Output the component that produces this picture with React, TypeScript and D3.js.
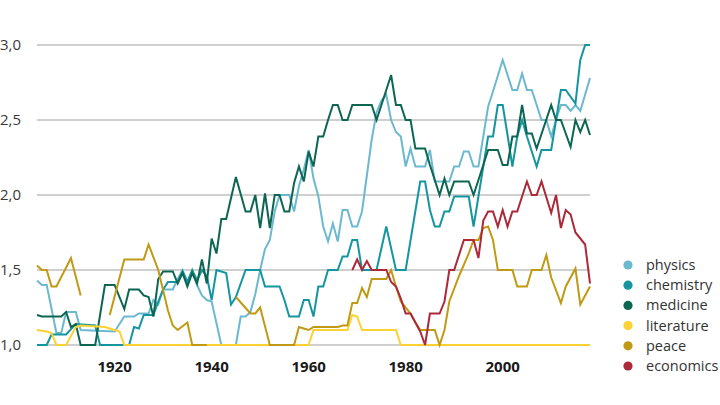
import React, { useRef, useEffect } from 'react';
import * as d3 from 'd3';

type Pt = [number, number | null];

// values (vertices of each line)
const physics: Pt[] = [
  [1904, 1.43], [1905, 1.4], [1906, 1.4], [1908, 1.08], [1909, 1.08], [1910, 1.22], [1912, 1.22], [1913, 1.1],
  [1920, 1.09], [1922, 1.19], [1924, 1.19], [1925, 1.21], [1927, 1.21], [1928, 1.3], [1929, 1.27], [1930, 1.37],
  [1932, 1.37], [1933, 1.44], [1934, 1.5], [1935, 1.42], [1936, 1.49], [1937, 1.4], [1938, 1.33], [1939, 1.3],
  [1940, 1.29], [1942, 1.0], [1945, 1.0], [1946, 1.19], [1947, 1.19], [1948, 1.22], [1949, 1.34], [1950, 1.5],
  [1951, 1.64], [1952, 1.7], [1953, 1.89], [1954, 2.0], [1956, 2.0], [1957, 1.89], [1958, 2.06], [1959, 2.17],
  [1960, 2.3], [1961, 2.11], [1962, 1.99], [1963, 1.79], [1964, 1.69], [1965, 1.81], [1966, 1.69], [1967, 1.9],
  [1968, 1.9], [1969, 1.79], [1970, 1.79], [1971, 1.89], [1972, 2.13], [1973, 2.37], [1974, 2.55], [1975, 2.63],
  [1976, 2.67], [1977, 2.5], [1978, 2.42], [1979, 2.39], [1980, 2.19], [1981, 2.31], [1982, 2.19], [1984, 2.19],
  [1985, 2.3], [1986, 2.09], [1989, 2.09], [1990, 2.19], [1991, 2.19], [1992, 2.29], [1993, 2.29], [1994, 2.19],
  [1995, 2.19], [1997, 2.59], [1998, 2.69], [2000, 2.9], [2002, 2.7], [2003, 2.7], [2004, 2.81], [2005, 2.7],
  [2006, 2.7], [2008, 2.5], [2009, 2.5], [2010, 2.39], [2011, 2.5], [2012, 2.6], [2013, 2.6], [2014, 2.56],
  [2015, 2.6], [2016, 2.56], [2017, 2.67], [2018, 2.78],
];

const chemistry: Pt[] = [
  [1904, 1.0], [1906, 1.0], [1907, 1.07], [1910, 1.07], [1912, 1.14], [1916, 1.13], [1917, 1.0], [1923, 1.0],
  [1924, 1.12], [1925, 1.11], [1926, 1.2], [1928, 1.2], [1929, 1.29], [1930, 1.37], [1931, 1.42], [1933, 1.42],
  [1934, 1.49], [1935, 1.42], [1936, 1.5], [1937, 1.43], [1938, 1.5], [1939, 1.46], [1940, 1.3], [1941, 1.5],
  [1943, 1.48], [1944, 1.27], [1945, 1.32], [1947, 1.5], [1950, 1.5], [1951, 1.39], [1954, 1.39], [1955, 1.3],
  [1956, 1.19], [1958, 1.19], [1959, 1.3], [1960, 1.3], [1961, 1.19], [1962, 1.39], [1963, 1.39], [1964, 1.5],
  [1966, 1.5], [1967, 1.59], [1968, 1.59], [1969, 1.7], [1970, 1.7], [1971, 1.5], [1974, 1.5], [1976, 1.79],
  [1978, 1.5], [1980, 1.5], [1983, 2.09], [1984, 2.09], [1985, 1.9], [1986, 1.79], [1987, 1.79], [1988, 1.89],
  [1989, 1.89], [1990, 1.99], [1993, 1.99], [1994, 1.79], [1995, 1.99], [1996, 2.19], [1997, 2.39], [1998, 2.39],
  [1999, 2.6], [2000, 2.6], [2001, 2.4], [2002, 2.19], [2003, 2.39], [2004, 2.5], [2005, 2.39], [2006, 2.29],
  [2007, 2.19], [2008, 2.3], [2010, 2.3], [2012, 2.7], [2013, 2.7], [2015, 2.61], [2016, 2.9], [2017, 3.0],
  [2018, 3.0],
];

const medicine: Pt[] = [
  [1904, 1.2], [1905, 1.19], [1909, 1.19], [1910, 1.22], [1911, 1.12], [1912, 1.14], [1913, 1.0], [1916, 1.0],
  [1918, 1.4], [1920, 1.4], [1922, 1.24], [1923, 1.37], [1925, 1.37], [1926, 1.33], [1927, 1.32], [1928, 1.19],
  [1929, 1.44], [1930, 1.49], [1932, 1.49], [1933, 1.41], [1934, 1.48], [1935, 1.39], [1936, 1.48], [1937, 1.41],
  [1938, 1.57], [1939, 1.41], [1940, 1.71], [1941, 1.61], [1942, 1.84], [1943, 1.84], [1945, 2.12], [1947, 1.89],
  [1948, 1.89], [1949, 2.0], [1950, 1.78], [1951, 2.01], [1952, 1.78], [1953, 2.0], [1954, 2.0], [1955, 1.89],
  [1956, 1.89], [1957, 2.08], [1958, 2.19], [1959, 2.09], [1960, 2.29], [1961, 2.19], [1962, 2.39], [1963, 2.39],
  [1964, 2.5], [1965, 2.6], [1966, 2.6], [1967, 2.5], [1968, 2.5], [1969, 2.6], [1973, 2.6], [1974, 2.5],
  [1977, 2.8], [1978, 2.6], [1979, 2.6], [1980, 2.5], [1981, 2.5], [1982, 2.31], [1984, 2.31], [1985, 2.2],
  [1987, 2.0], [1988, 2.11], [1989, 2.0], [1990, 2.09], [1993, 2.09], [1994, 2.0], [1996, 2.2], [1997, 2.3],
  [1999, 2.3], [2000, 2.2], [2001, 2.2], [2002, 2.39], [2003, 2.39], [2004, 2.6], [2005, 2.41], [2006, 2.41],
  [2007, 2.31], [2010, 2.6], [2011, 2.5], [2012, 2.5], [2014, 2.32], [2015, 2.5], [2016, 2.42], [2017, 2.5],
  [2018, 2.4],
];

const literature: Pt[] = [
  [1904, 1.1], [1906, 1.09], [1907, 1.08], [1908, 1.0], [1910, 1.0], [1912, 1.12], [1913, 1.13], [1918, 1.12],
  [1920, 1.1], [1921, 1.09], [1922, 1.0], [1960, 1.0], [1961, 1.1], [1968, 1.1], [1969, 1.2], [1970, 1.19],
  [1971, 1.1], [1978, 1.1], [1979, 1.0], [2018, 1.0],
];

const peace: Pt[] = [
  [1904, 1.53], [1905, 1.5], [1906, 1.5], [1907, 1.39], [1908, 1.39], [1911, 1.58], [1913, 1.33], [1914, null],
  [1918, null], [1919, 1.2], [1922, 1.57], [1926, 1.57], [1927, 1.67], [1929, 1.5], [1931, 1.23], [1932, 1.13],
  [1933, 1.1], [1935, 1.15], [1936, 1.0], [1939, 1.0], [1940, null], [1944, null], [1945, 1.32], [1948, 1.21],
  [1949, 1.21], [1950, 1.25], [1952, 1.0], [1957, 1.0], [1958, 1.12], [1959, 1.11], [1960, 1.1], [1961, 1.12],
  [1966, 1.12], [1967, 1.13], [1968, 1.13], [1969, 1.28], [1970, 1.28], [1971, 1.38], [1972, 1.32], [1973, 1.44],
  [1976, 1.44], [1977, 1.5], [1978, 1.39], [1979, 1.29], [1981, 1.21], [1982, 1.15], [1983, 1.1], [1986, 1.1],
  [1987, 1.0], [1988, 1.1], [1989, 1.29], [1991, 1.46], [1993, 1.61], [1994, 1.7], [1995, 1.7], [1996, 1.78],
  [1997, 1.79], [1998, 1.7], [1999, 1.5], [2002, 1.5], [2003, 1.39], [2005, 1.39], [2006, 1.5], [2008, 1.5],
  [2009, 1.6], [2010, 1.45], [2012, 1.28], [2013, 1.39], [2015, 1.51], [2016, 1.27], [2018, 1.39],
];

const economics: Pt[] = [
  [1969, 1.5], [1970, 1.57], [1971, 1.5], [1972, 1.56], [1973, 1.5], [1976, 1.5], [1977, 1.42], [1978, 1.39],
  [1979, 1.31], [1980, 1.21], [1981, 1.21], [1982, 1.15], [1983, 1.09], [1984, 1.0], [1985, 1.21], [1987, 1.21],
  [1988, 1.29], [1989, 1.5], [1990, 1.5], [1992, 1.7], [1994, 1.7], [1995, 1.58], [1996, 1.83], [1997, 1.89],
  [1998, 1.89], [1999, 1.79], [2000, 1.9], [2001, 1.79], [2002, 1.89], [2003, 1.89], [2005, 2.09], [2006, 2.0],
  [2007, 2.0], [2008, 2.09], [2010, 1.88], [2011, 2.0], [2012, 1.78], [2013, 1.9], [2014, 1.87], [2015, 1.75],
  [2017, 1.67], [2018, 1.41],
];

const seriesNames = ['physics', 'chemistry', 'medicine', 'literature', 'peace', 'economics'];
const seriesData = [physics, chemistry, medicine, literature, peace, economics];
const seriesColors = ['#6cb9cf', '#14959f', '#0c6652', '#fcd232', '#c09a14', '#ad2838'];

const yTicks = [1, 1.5, 2, 2.5, 3];
const xTicks = [1920, 1940, 1960, 1980, 2000];

const App = () => {
  const svgRef = useRef<SVGSVGElement>(null);

  useEffect(() => {
    if (!svgRef.current) return;
    const svg = d3.select(svgRef.current);
    svg.selectAll('*').remove();

    const font = "'Open Sans', 'DejaVu Sans', sans-serif";
    const x = d3.scaleLinear().domain([1904, 2018]).range([37, 590]);
    const y = d3.scaleLinear().domain([1, 3]).range([345, 45]);

    // gridlines
    svg.append('g')
      .selectAll('line')
      .data(yTicks)
      .enter()
      .append('line')
      .attr('x1', x(1904))
      .attr('x2', x(2018))
      .attr('y1', d => y(d))
      .attr('y2', d => y(d))
      .attr('stroke', '#a0a0a0')
      .attr('stroke-width', 1);

    // y labels
    svg.append('g')
      .selectAll('text')
      .data(yTicks)
      .enter()
      .append('text')
      .attr('x', 0)
      .attr('y', d => y(d))
      .attr('dy', '0.36em')
      .attr('font-family', font)
      .attr('font-size', 15)
      .attr('fill', '#3a3a3a')
      .text(d => d3.format('.1f')(d).replace('.', ','));

    // x labels
    svg.append('g')
      .selectAll('text')
      .data(xTicks)
      .enter()
      .append('text')
      .attr('x', d => x(d))
      .attr('y', 372)
      .attr('text-anchor', 'middle')
      .attr('font-family', font)
      .attr('font-size', 15)
      .attr('font-weight', 700)
      .attr('fill', '#1a1a1a')
      .text(d => d);

    const line = d3.line<Pt>()
      .defined(d => d[1] !== null)
      .x(d => x(d[0]))
      .y(d => y(d[1] as number));

    seriesData.forEach((data, i) => {
      svg.append('path')
        .datum(data)
        .attr('fill', 'none')
        .attr('stroke', seriesColors[i])
        .attr('stroke-width', 2)
        .attr('stroke-linejoin', 'miter')
        .attr('d', line);
    });

    // legend
    const legend = svg.append('g')
      .selectAll('g')
      .data(seriesNames)
      .enter()
      .append('g')
      .attr('transform', (d, i) => `translate(628,${265 + i * 20.2})`);

    legend.append('circle')
      .attr('r', 4.6)
      .attr('fill', (d, i) => seriesColors[i]);

    legend.append('text')
      .attr('x', 18)
      .attr('dy', '0.35em')
      .attr('font-family', font)
      .attr('font-size', 14.5)
      .attr('fill', '#333')
      .text(d => d);
  }, []);

  return (
    <svg
      ref={svgRef}
      width={720}
      height={405}
      style={{ position: 'absolute', left: 0, top: 0, background: '#fff' }}
    ></svg>
  );
};

export default App;
